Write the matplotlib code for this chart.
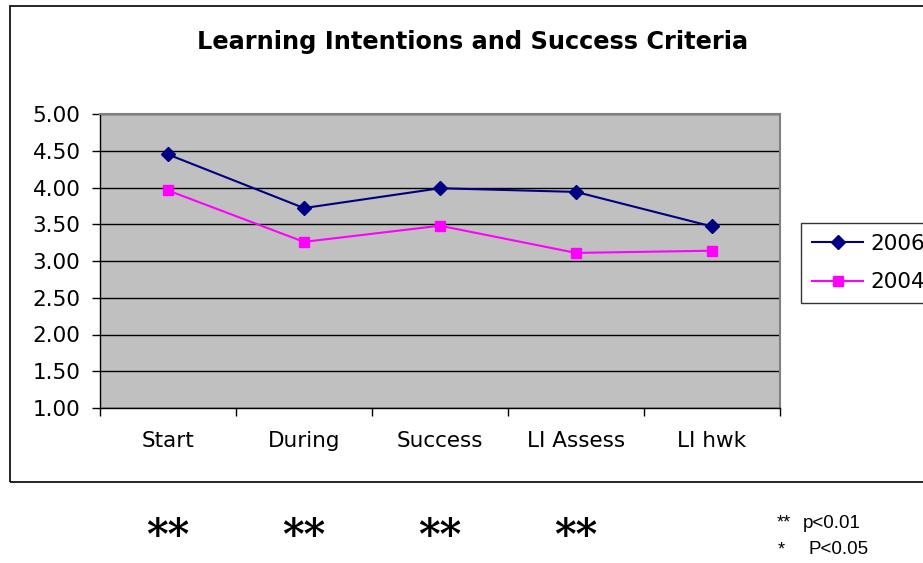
import matplotlib
matplotlib.use("Agg")
import matplotlib.pyplot as plt
from matplotlib.patches import Rectangle
from matplotlib.ticker import FixedLocator

categories = ["Start", "During", "Success", "LI Assess", "LI hwk"]
series_names = ["2006", "2004"]
values_2006 = [4.45, 3.72, 3.99, 3.94, 3.47]
values_2004 = [3.96, 3.26, 3.48, 3.11, 3.14]
y_ticks = [1.00, 1.50, 2.00, 2.50, 3.00, 3.50, 4.00, 4.50, 5.00]
sig_marks = ["**", "**", "**", "**", ""]
title = "Learning Intentions and Success Criteria"
note_lines = [("**", "p<0.01"), ("*", "P<0.05")]

plt.rcParams['font.family'] = ['DejaVu Sans']

W, H = 923, 563
fig = plt.figure(figsize=(W / 100, H / 100), dpi=100)

# outer chart border
fig.patches.append(Rectangle((10 / W, 1 - 482 / H), 1.2, (482 - 6) / H,
                             transform=fig.transFigure, fill=False,
                             edgecolor='black', linewidth=1.2, zorder=0))

ax = fig.add_axes([100 / W, 1 - 408 / H, 680 / W, (408 - 114) / H])
ax.set_facecolor('#C0C0C0')
x = list(range(len(categories)))
ax.plot(x, values_2006, color='#000080', marker='D', markersize=7.5,
        linewidth=1.5, label=series_names[0], zorder=3)
ax.plot(x, values_2004, color='#FF00FF', marker='s', markersize=7.5,
        linewidth=1.5, label=series_names[1], zorder=3)

ax.set_xlim(-0.5, len(categories) - 0.5)
ax.set_ylim(1.0, 5.0)
ax.set_yticks(y_ticks)
ax.set_yticklabels([f"{v:.2f}" for v in y_ticks], fontsize=15.5)
ax.set_xticks(x)
ax.set_xticklabels(categories, fontsize=15.5)
ax.xaxis.set_minor_locator(FixedLocator([i - 0.5 for i in range(len(categories) + 1)]))
ax.tick_params(axis='x', which='major', length=0, pad=16.5)
ax.tick_params(axis='x', which='minor', length=6, width=1, color='black')
ax.tick_params(axis='y', which='major', length=6, width=1, pad=8)
ax.yaxis.grid(True, color='black', linewidth=1)
ax.set_axisbelow(True)
for s in ['top', 'right']:
    ax.spines[s].set_color('#808080')
    ax.spines[s].set_linewidth(1.5)
for s in ['left', 'bottom']:
    ax.spines[s].set_color('black')
    ax.spines[s].set_linewidth(1)

fig.text(473 / W, 1 - 42 / H, title, ha='center', va='center',
         fontsize=17.3, fontweight='bold')

leg = ax.legend(loc='upper left', bbox_to_anchor=(801 / W, 1 - 223 / H),
                bbox_transform=fig.transFigure, fontsize=15.5, frameon=True,
                fancybox=False, edgecolor='black', borderpad=0.5,
                handlelength=2.4, handletextpad=0.3, labelspacing=0.85,
                borderaxespad=0)
leg.get_frame().set_linewidth(1)

# significance markers under categories
for i, m in enumerate(sig_marks):
    if m:
        xd = ax.transData.transform((i, 1.0))[0]
        fig.text(xd / W, 1 - 537 / H, m, ha='center', va='center',
                 fontsize=30, fontweight='bold', family=['DejaVu Serif'])

# note
note_font = ['Liberation Sans Narrow', 'Liberation Sans']
fig.text(777 / W, 1 - 523 / H, note_lines[0][0], ha='left', va='center', fontsize=13,
         family=note_font)
fig.text(803 / W, 1 - 524 / H, note_lines[0][1], ha='left', va='center', fontsize=13.5,
         family=note_font)
fig.text(778 / W, 1 - 550 / H, note_lines[1][0], ha='left', va='center', fontsize=13,
         family=note_font)
fig.text(809 / W, 1 - 550 / H, note_lines[1][1], ha='left', va='center', fontsize=13.5,
         family=note_font)

fig.savefig("out.png", dpi=100)
